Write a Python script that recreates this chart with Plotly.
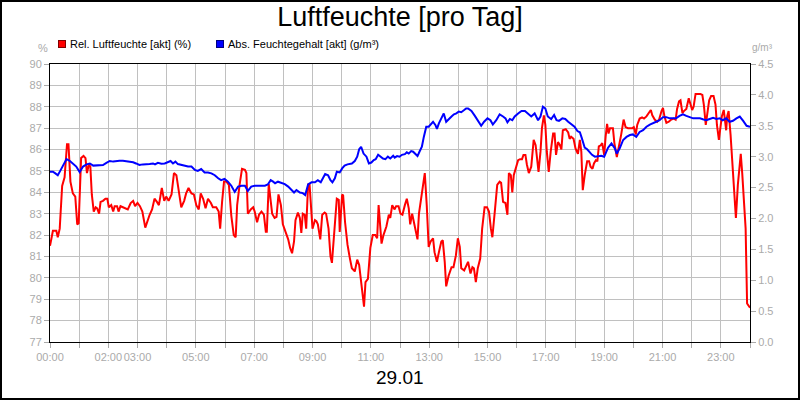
import plotly.graph_objects as go

# ---------------- data ----------------
# Relative humidity (%) - minutes since midnight
rel_minutes = [0, 6, 13, 16, 20, 25, 30, 35, 38, 42, 47, 52, 56, 59, 64, 69, 73, 76, 80, 83,
               86, 90, 94, 97, 101, 104, 109, 114, 118, 121, 126, 130, 133, 138, 141, 145, 150, 155, 160, 166,
               171, 175, 180, 185, 190, 196, 200, 205, 210, 215, 220, 224, 230, 235, 239, 244, 250, 255, 260, 265,
               270, 276, 280, 285, 291, 296, 301, 306, 310, 315, 320, 325, 331, 335, 342, 347, 350, 354, 358, 363,
               368, 373, 378, 382, 385, 390, 395, 401, 404, 407, 413, 418, 421, 426, 430, 435, 440, 444, 446, 450,
               454, 457, 462, 466, 470, 475, 479, 484, 490, 494, 498, 502, 505, 510, 514, 517, 520, 524, 527, 531,
               534, 540, 545, 548, 551, 556, 560, 565, 568, 573, 577, 580, 586, 590, 594, 596, 601, 603, 607, 612,
               617, 621, 627, 632, 636, 640, 646, 649, 654, 659, 664, 669, 673, 676, 682, 686, 692, 697, 700, 704,
               709, 712, 717, 721, 725, 730, 734, 738, 741, 745, 749, 752, 756, 759, 764, 767, 771, 775, 779, 783,
               788, 791, 796, 800, 805, 808, 812, 815, 820, 826, 830, 835, 839, 843, 846, 852, 856, 860, 865, 869,
               872, 876, 880, 885, 889, 894, 899, 903, 907, 910, 915, 920, 925, 928, 932, 937, 941, 944, 948, 951,
               954, 958, 963, 967, 971, 974, 978, 981, 985, 990, 995, 999, 1002, 1005, 1009, 1012, 1016, 1019, 1022, 1026,
               1030, 1035, 1038, 1041, 1045, 1049, 1052, 1055, 1061, 1066, 1069, 1072, 1077, 1081, 1086, 1090, 1093, 1096, 1100, 1105,
               1109, 1112, 1116, 1119, 1123, 1126, 1129, 1133, 1136, 1140, 1143, 1146, 1149, 1152, 1158, 1161, 1166, 1170, 1175, 1180,
               1184, 1189, 1194, 1198, 1201, 1205, 1208, 1213, 1218, 1222, 1227, 1232, 1236, 1239, 1244, 1249, 1253, 1258, 1261, 1264,
               1268, 1273, 1278, 1283, 1287, 1290, 1294, 1297, 1301, 1304, 1309, 1314, 1317, 1321, 1324, 1328, 1333, 1338, 1342, 1345,
               1349, 1352, 1356, 1360, 1365, 1369, 1372, 1376, 1379, 1382, 1386, 1389, 1391, 1393, 1396, 1400, 1405, 1411, 1415, 1421,
               1424, 1428, 1431, 1434, 1437, 1440]
rel_values = [81.5, 82.2, 82.2, 81.9, 82.3, 84.3, 84.7, 86.25, 86.25, 84.5, 83.95, 83.8, 82.5, 82.55, 85.6, 85.7, 85.6, 84.9, 85.3, 85.2,
              83.9, 83.1, 83.3, 83.25, 83.0, 83.55, 83.6, 83.7, 83.7, 83.3, 83.4, 83.1, 83.35, 83.35, 83.1, 83.35, 83.3, 83.25, 83.2, 83.5,
              83.6, 83.35, 83.5, 83.35, 83.1, 82.35, 82.65, 82.95, 83.2, 83.7, 83.55, 83.4, 84.2, 83.6, 83.8, 83.6, 83.9, 84.9, 84.8, 84.0,
              83.3, 83.6, 83.95, 84.2, 83.95, 83.9, 83.4, 83.2, 83.95, 83.7, 83.25, 83.7, 83.5, 83.3, 83.3, 83.1, 82.3, 83.55, 84.5, 84.5,
              84.35, 82.9, 82.0, 81.9, 83.4, 84.35, 85.1, 85.05, 84.9, 83.0, 83.2, 83.3, 83.1, 82.6, 82.95, 83.1, 82.95, 82.15, 82.15, 84.4,
              83.55, 83.0, 82.8, 82.85, 83.9, 83.4, 82.5, 82.15, 81.8, 81.4, 81.15, 81.7, 82.7, 83.05, 82.8, 82.1, 83.0, 82.95, 82.3, 84.4,
              84.35, 82.3, 82.7, 82.65, 82.5, 81.8, 82.95, 83.05, 83.0, 82.3, 81.0, 80.7, 82.3, 83.7, 83.65, 82.15, 83.9, 83.85, 82.6, 81.55,
              80.9, 80.45, 80.3, 80.85, 80.6, 79.8, 78.65, 79.8, 79.95, 81.4, 82.0, 82.0, 81.85, 83.4, 81.6, 82.0, 82.4, 82.95, 82.8, 83.4,
              83.2, 83.35, 83.35, 83.0, 82.95, 83.4, 83.7, 83.25, 82.5, 83.0, 82.55, 82.15, 81.8, 83.0, 83.9, 84.4, 84.9, 83.4, 81.45, 81.7,
              81.85, 81.2, 80.75, 81.2, 81.7, 81.75, 80.75, 79.6, 80.1, 80.5, 80.5, 81.05, 81.85, 81.45, 80.45, 80.35, 80.6, 80.75, 80.2, 80.5,
              80.45, 79.8, 80.45, 80.9, 82.3, 83.3, 83.3, 83.1, 82.3, 81.9, 83.1, 84.35, 84.5, 84.45, 83.55, 83.5, 82.95, 84.9, 84.8, 84.0,
              84.8, 85.1, 85.5, 85.55, 85.55, 85.75, 85.75, 85.3, 84.9, 85.2, 86.45, 86.2, 85.6, 84.95, 85.9, 87.0, 87.6, 87.15, 85.9, 84.95,
              85.9, 86.75, 86.75, 85.75, 86.35, 86.2, 86.0, 86.9, 86.95, 86.8, 86.5, 86.6, 86.5, 86.05, 85.8, 86.45, 85.9, 84.1, 84.8, 85.45,
              85.45, 85.2, 85.1, 85.35, 85.5, 85.45, 86.15, 86.2, 86.3, 85.75, 86.6, 87.2, 86.75, 87.0, 87.0, 86.3, 85.65, 86.05, 86.7, 87.4,
              87.05, 87.0, 87.0, 87.0, 87.05, 86.7, 87.15, 87.45, 87.5, 87.45, 87.55, 87.7, 87.85, 87.6, 87.4, 87.3, 87.4, 87.8, 87.95, 87.55,
              87.25, 87.3, 87.4, 87.45, 87.4, 87.9, 88.25, 88.3, 87.7, 87.8, 87.9, 88.4, 88.15, 87.85, 88.0, 88.6, 88.6, 88.6, 88.55, 88.1,
              87.15, 87.7, 88.3, 88.5, 88.5, 88.1, 87.15, 86.45, 87.15, 87.55, 87.85, 87.3, 86.9, 87.55, 87.8, 86.7, 84.8, 82.8, 84.35, 85.8,
              84.9, 83.25, 82.3, 78.8, 78.7, 78.6]

# Absolute humidity (g/m³) - minutes since midnight
abs_minutes = [0, 6, 11, 16, 21, 27, 34, 41, 47, 54, 61, 68, 75, 82, 89, 96, 103, 109, 116, 123,
               130, 137, 143, 150, 157, 164, 171, 177, 184, 191, 198, 205, 212, 216, 222, 229, 236, 243, 248, 253,
               258, 263, 270, 277, 284, 291, 298, 304, 311, 318, 325, 332, 339, 346, 352, 359, 366, 373, 380, 387,
               394, 401, 407, 414, 421, 428, 435, 442, 448, 454, 459, 463, 469, 476, 483, 490, 496, 502, 507, 514,
               520, 525, 531, 538, 545, 551, 557, 562, 566, 572, 577, 581, 586, 590, 596, 601, 606, 612, 617, 621,
               627, 632, 636, 640, 645, 651, 656, 661, 666, 670, 675, 679, 685, 690, 695, 700, 706, 709, 714, 719,
               724, 730, 734, 738, 743, 747, 751, 756, 760, 765, 769, 774, 779, 783, 788, 793, 796, 800, 805, 810,
               815, 820, 826, 831, 836, 841, 846, 852, 856, 860, 867, 874, 880, 887, 893, 900, 906, 911, 918, 925,
               932, 937, 941, 946, 951, 956, 963, 970, 977, 983, 990, 997, 1004, 1009, 1014, 1019, 1024, 1031, 1037, 1042,
               1047, 1054, 1060, 1066, 1073, 1079, 1085, 1090, 1094, 1100, 1105, 1110, 1115, 1121, 1127, 1134, 1140, 1144, 1148, 1155,
               1162, 1166, 1172, 1179, 1186, 1193, 1199, 1206, 1213, 1220, 1227, 1234, 1241, 1247, 1254, 1261, 1268, 1275, 1282, 1288,
               1295, 1302, 1309, 1316, 1323, 1330, 1337, 1343, 1350, 1357, 1364, 1371, 1378, 1384, 1391, 1398, 1405, 1412, 1419, 1426,
               1433, 1440]
abs_values = [2.757, 2.757, 2.73, 2.70, 2.77, 2.865, 2.96, 2.93, 2.89, 2.84, 2.75, 2.84, 2.875, 2.89, 2.855, 2.855, 2.855, 2.865, 2.90, 2.93,
              2.92, 2.93, 2.935, 2.935, 2.93, 2.92, 2.91, 2.89, 2.865, 2.875, 2.875, 2.88, 2.89, 2.875, 2.90, 2.885, 2.89, 2.92, 2.93, 2.89,
              2.92, 2.88, 2.865, 2.855, 2.84, 2.84, 2.785, 2.77, 2.80, 2.745, 2.745, 2.73, 2.70, 2.65, 2.62, 2.64, 2.595, 2.53, 2.43, 2.515,
              2.53, 2.53, 2.445, 2.515, 2.53, 2.53, 2.53, 2.53, 2.55, 2.62, 2.595, 2.57, 2.595, 2.57, 2.555, 2.515, 2.46, 2.42, 2.46, 2.42,
              2.41, 2.38, 2.55, 2.585, 2.585, 2.62, 2.585, 2.65, 2.72, 2.70, 2.62, 2.585, 2.65, 2.757, 2.745, 2.81, 2.855, 2.875, 2.89, 2.89,
              2.93, 3.0, 3.12, 3.16, 3.05, 3.0, 2.89, 2.905, 2.945, 2.96, 3.03, 3.0, 2.97, 2.96, 3.0, 2.97, 3.015, 2.985, 3.01, 3.0,
              3.03, 3.04, 3.07, 3.05, 3.09, 3.08, 3.05, 3.01, 3.08, 3.16, 3.32, 3.485, 3.485, 3.52, 3.565, 3.51, 3.45, 3.54, 3.62, 3.70,
              3.565, 3.61, 3.65, 3.685, 3.70, 3.73, 3.72, 3.755, 3.78, 3.78, 3.74, 3.66, 3.58, 3.50, 3.565, 3.62, 3.59, 3.52, 3.59, 3.685,
              3.65, 3.62, 3.555, 3.61, 3.59, 3.65, 3.70, 3.74, 3.74, 3.70, 3.65, 3.70, 3.59, 3.65, 3.81, 3.78, 3.65, 3.61, 3.675, 3.59,
              3.58, 3.62, 3.61, 3.565, 3.52, 3.485, 3.415, 3.395, 3.30, 3.145, 3.12, 3.08, 3.03, 3.0, 3.01, 3.015, 3.0, 3.08, 3.145, 3.215,
              3.135, 3.05, 3.135, 3.27, 3.32, 3.35, 3.36, 3.32, 3.40, 3.43, 3.485, 3.52, 3.54, 3.565, 3.59, 3.64, 3.64, 3.62, 3.62, 3.62,
              3.66, 3.685, 3.66, 3.64, 3.62, 3.62, 3.62, 3.605, 3.59, 3.61, 3.63, 3.61, 3.62, 3.59, 3.62, 3.565, 3.58, 3.62, 3.65, 3.58,
              3.50, 3.485]

tick_minutes = list(range(0, 1441, 60))
labelled_hours = [0, 2, 3, 5, 7, 9, 11, 13, 15, 17, 19, 21, 23]
tick_labels = [f"{m // 60:02d}:00" if (m // 60) in labelled_hours and m < 1440 else "" for m in tick_minutes]

series_names = ["Rel. Luftfeuchte [akt] (%)", "Abs. Feuchtegehalt [akt] (g/m³)"]
series_colors = ["#ff0000", "#0000ff"]

# ---------------- figure ----------------
FONT = "Liberation Sans, Arial, sans-serif"
GRAY = "#aaaaaa"
GRID = "#c0c0c0"

fig = go.Figure()
fig.add_trace(go.Scatter(x=abs_minutes, y=abs_values, mode="lines", yaxis="y2",
                         name=series_names[1], line=dict(color=series_colors[1], width=2),
                         showlegend=False))
fig.add_trace(go.Scatter(x=rel_minutes, y=rel_values, mode="lines", yaxis="y",
                         name=series_names[0], line=dict(color=series_colors[0], width=2),
                         showlegend=False))

axis_common = dict(showline=True, linecolor="black", linewidth=1, ticks="outside", ticklen=5,
                   tickcolor=GRAY, tickfont=dict(family=FONT, size=11, color=GRAY), zeroline=False,
                   automargin=False)

fig.update_layout(
    width=800, height=400,
    margin=dict(l=50, r=50, t=64, b=58, pad=0),
    paper_bgcolor="white", plot_bgcolor="white",
    font=dict(family=FONT),
    title=dict(text="Luftfeuchte [pro Tag]", x=0.5, xanchor="center", y=1 - 17 / 400, yanchor="middle",
               font=dict(family=FONT, size=27, color="black")),
    xaxis=dict(range=[0, 1440], tickmode="array", tickvals=tick_minutes, ticktext=tick_labels, tickangle=0,
               showgrid=True, gridcolor=GRID, gridwidth=1, mirror=True, **axis_common),
    yaxis=dict(range=[77, 90], tick0=77, dtick=1, showgrid=True, gridcolor=GRID, gridwidth=1,
               mirror=True, **axis_common),
    yaxis2=dict(range=[0, 4.5], tick0=0, dtick=0.5, tickformat=".1f", overlaying="y", side="right",
                showgrid=False, **axis_common),
    showlegend=False,
)

# legend drawn as coloured boxes + labels above the plot
legend_y = (342 - 44) / 278
legend_box_x = [(62 - 50) / 700, (219.7 - 50) / 700]
legend_text_x = [(68 - 50) / 700, (225.5 - 50) / 700]
border_cols = ["#800000", "#000080"]
for i in range(2):
    fig.add_annotation(x=legend_box_x[i], y=legend_y, xref="paper", yref="paper", text=" ",
                       showarrow=False, width=6, height=6, bgcolor=series_colors[i],
                       bordercolor=border_cols[i], borderwidth=1, borderpad=0,
                       xanchor="center", yanchor="middle", font=dict(size=4))
    fig.add_annotation(x=legend_text_x[i], y=legend_y, xref="paper", yref="paper", text=series_names[i],
                       showarrow=False, xanchor="left", yanchor="middle",
                       font=dict(family=FONT, size=11, color="black"))

# axis unit labels
fig.add_annotation(x=(43 - 50) / 700, y=(342 - 48) / 278, xref="paper", yref="paper", text="%",
                   showarrow=False, xanchor="center", yanchor="middle", font=dict(family=FONT, size=11, color=GRAY))
fig.add_annotation(x=(762 - 50) / 700, y=(342 - 48) / 278, xref="paper", yref="paper", text="g/m³",
                   showarrow=False, xanchor="center", yanchor="middle", font=dict(family=FONT, size=10, color=GRAY))
# date label
fig.add_annotation(x=0.5, y=(342 - 377) / 278, xref="paper", yref="paper", text="29.01",
                   showarrow=False, xanchor="center", yanchor="middle", font=dict(family=FONT, size=19, color="black"))

# outer frame
fig.add_shape(type="rect", xref="paper", yref="paper",
              x0=(1 - 50) / 700, x1=(799 - 50) / 700, y0=(342 - 399) / 278, y1=(342 - 1) / 278,
              line=dict(color="black", width=2), fillcolor="rgba(0,0,0,0)", layer="above")

fig.write_html("out.html", config={"displayModeBar": False},
               post_script="document.body.style.margin='0';document.body.style.overflow='hidden';")
